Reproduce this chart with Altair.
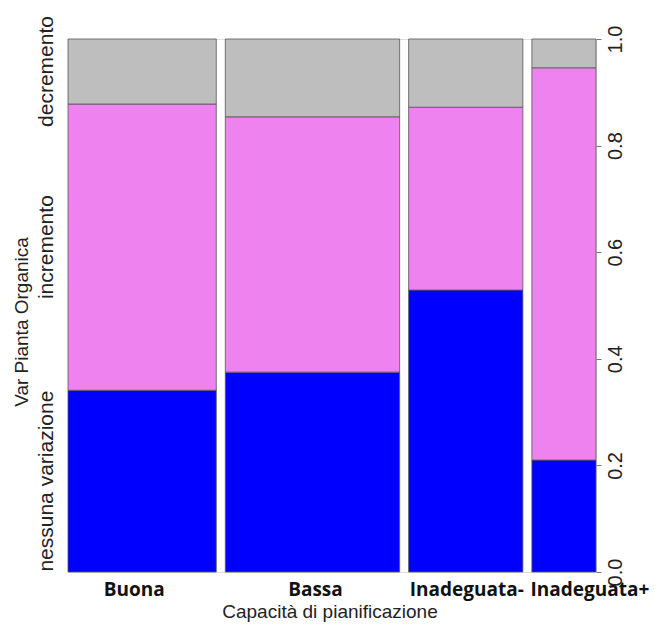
import altair as alt
import pandas as pd

categories = ["Buona", "Bassa", "Inadeguata-", "Inadeguata+"]
col_share = [0.296, 0.348, 0.228, 0.128]          # relative column widths
nessuna_variazione = [0.341, 0.375, 0.529, 0.210]
incremento = [0.537, 0.479, 0.343, 0.736]
decremento = [round(1 - a - b, 3) for a, b in zip(nessuna_variazione, incremento)]
levels = ["nessuna variazione", "incremento", "decremento"]
level_colors = ["#0000FF", "#EE82EE", "#BEBEBE"]
y_ticks = [0.0, 0.2, 0.4, 0.6, 0.8, 1.0]

# ---- layout / style ----
W, H = 528, 533
gap = 0.018
label_dx = [-8, 3, 1, 26]   # pixel nudges of the bottom category labels

# ---- build rectangles table ----
rows = []
x0 = 0.0
series = [nessuna_variazione, incremento, decremento]
for i, c in enumerate(categories):
    x1 = x0 + col_share[i]
    y0 = 0.0
    for lev, vals in zip(levels, series):
        y1 = y0 + vals[i]
        rows.append(dict(cat=c, level=lev, x=x0, x2=x1, y=y0, y2=y1,
                         xm=(x0 + x1) / 2, ym=(y0 + y1) / 2, dx=label_dx[i]))
        y0 = y1
    x0 = x1 + gap
df = pd.DataFrame(rows)
xmax = x0 - gap
df["xl"] = df["xm"] + df["dx"] * xmax / W

xs = alt.Scale(domain=[0, xmax], nice=False, zero=False)
ys = alt.Scale(domain=[0, 1], nice=False)

rects = alt.Chart(df).mark_rect(stroke="#555555", strokeWidth=0.8).encode(
    x=alt.X("x:Q", scale=xs, axis=None),
    x2="x2:Q",
    y=alt.Y("y:Q", scale=ys, axis=alt.Axis(
        orient="right", values=y_ticks, format=".1f", title=None,
        labelAngle=270, labelAlign="center", labelBaseline="top",
        labelFont="Liberation Sans", labelFontSize=20, labelColor="#222222",
        tickColor="#777777", tickSize=5, labelPadding=4,
        domain=False, grid=False)),
    y2="y2:Q",
    color=alt.Color("level:N", scale=alt.Scale(domain=levels, range=level_colors),
                    legend=None),
)

first = df[df["cat"] == categories[0]]
left_labels = alt.Chart(first).mark_text(
    angle=270, align="center", baseline="middle",
    font="Liberation Sans", fontSize=21, color="#222222"
).encode(
    x=alt.value(-21),
    y=alt.Y("ym:Q", scale=ys),
    text="level:N",
)

ytitle = alt.Chart(pd.DataFrame({"t": ["Var Pianta Organica"]})).mark_text(
    angle=270, align="center", baseline="middle",
    font="Liberation Sans", fontSize=19, color="#222222"
).encode(x=alt.value(-46), y=alt.value(283), text="t:N")

bottom = df[df["level"] == levels[0]]
xlabels = alt.Chart(bottom).mark_text(
    align="center", baseline="alphabetic",
    font="Open Sans", fontWeight="bold", fontSize=19, color="#111111"
).encode(
    x=alt.X("xl:Q", scale=xs),
    y=alt.value(H + 24),
    text="cat:N",
)

xtitle = alt.Chart(pd.DataFrame({"t": ["Capacità di pianificazione"]})).mark_text(
    align="center", baseline="alphabetic",
    font="Liberation Sans", fontSize=19, color="#222222"
).encode(x=alt.value(W / 2 - 2), y=alt.value(H + 46), text="t:N")

chart = alt.layer(rects, left_labels, ytitle, xlabels, xtitle).properties(
    width=W, height=H,
    autosize=alt.AutoSizeParams(type="none"),
    padding={"left": 60, "top": 31, "right": 54, "bottom": 54},
).configure_view(stroke=None).configure(background="white")

chart.save("out.html", embed_options={"renderer": "svg", "actions": False})
